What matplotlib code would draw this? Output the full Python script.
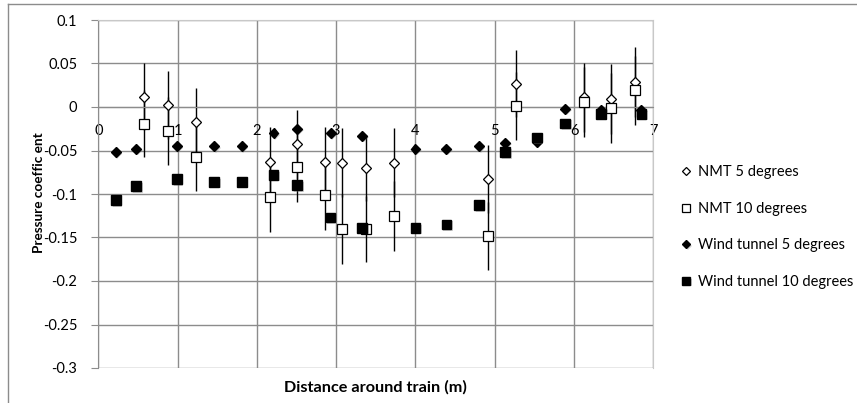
import numpy as np
import matplotlib
matplotlib.use('Agg')
import matplotlib.pyplot as plt
import matplotlib.patheffects as pe
from matplotlib.lines import Line2D

plt.rcParams['font.family'] = ['Lato', 'DejaVu Sans']

# NMT full-scale measurements (with error bars)
nmt_x = [0.58, 0.88, 1.23, 2.17, 2.50, 2.86, 3.07, 3.38, 3.73, 4.92, 5.27, 6.12, 6.47, 6.77]
nmt_5deg = [0.012, 0.002, -0.017, -0.063, -0.043, -0.063, -0.064, -0.070, -0.064,
            -0.083, 0.027, 0.011, 0.009, 0.029]
nmt_10deg = [-0.019, -0.028, -0.057, -0.104, -0.069, -0.101, -0.140, -0.140, -0.125,
             -0.148, 0.001, 0.006, -0.001, 0.019]
nmt_err = [0.039, 0.039, 0.039, 0.040, 0.040, 0.040, 0.040, 0.038, 0.040,
           0.039, 0.039, 0.040, 0.040, 0.040]

# wind tunnel tappings
wt_x = [0.22, 0.48, 0.99, 1.46, 1.81, 2.21, 2.51, 2.93, 3.33, 4.00, 4.39,
        4.80, 5.13, 5.53, 5.89, 6.34, 6.85]
wt_5deg = [-0.052, -0.048, -0.045, -0.045, -0.045, -0.030, -0.025, -0.030, -0.033,
           -0.048, -0.048, -0.045, -0.041, -0.040, -0.002, -0.003, -0.003]
wt_10deg = [-0.107, -0.091, -0.083, -0.086, -0.086, -0.078, -0.090, -0.127, -0.139,
            -0.139, -0.135, -0.113, -0.052, -0.035, -0.019, -0.008, -0.008]

grid_col = '#8c8c8c'
shadow = [pe.SimplePatchShadow(offset=(1.2, -1.2), shadow_rgbFace='#808080', alpha=0.35), pe.Normal()]

fig = plt.figure(figsize=(8.57, 4.03), dpi=100)
ax = fig.add_axes([98.3/857, 1-368/403, (653.3-98.3)/857, (368-20)/403])

ax.errorbar(nmt_x, nmt_5deg, yerr=nmt_err, fmt='none', ecolor='black', elinewidth=1, capsize=0, zorder=2)
ax.errorbar(nmt_x, nmt_10deg, yerr=nmt_err, fmt='none', ecolor='black', elinewidth=1, capsize=0, zorder=2)

ax.plot(nmt_x, nmt_5deg, ls='none', marker='D', ms=5.2, mfc='white', mec='black', mew=0.9,
        label='NMT 5 degrees', zorder=3)
ax.plot(nmt_x, nmt_10deg, ls='none', marker='s', ms=7, mfc='white', mec='black', mew=0.9,
        label='NMT 10 degrees', zorder=3)
ax.plot(wt_x, wt_5deg, ls='none', marker='D', ms=5, mfc='black', mec='black',
        label='Wind tunnel 5 degrees', zorder=4, path_effects=shadow)
ax.plot(wt_x, wt_10deg, ls='none', marker='s', ms=7, mfc='black', mec='black',
        label='Wind tunnel 10 degrees', zorder=5, path_effects=shadow)

ax.set_xlim(0, 7)
ax.set_ylim(-0.3, 0.1)
ax.set_xticks(np.arange(0, 8, 1))
ax.set_yticks(np.arange(-0.3, 0.101, 0.05))
ax.set_yticklabels(['-0.3', '-0.25', '-0.2', '-0.15', '-0.1', '-0.05', '0', '0.05', '0.1'])
ax.grid(True, color=grid_col, lw=1)
ax.set_axisbelow(True)

# horizontal axis crosses at zero
ax.spines['bottom'].set_position(('data', 0))
ax.spines['bottom'].set_color(grid_col)
ax.spines['top'].set_color('#c8c8c8')
ax.spines['right'].set_color('#c8c8c8')
ax.spines['left'].set_color(grid_col)
ax.tick_params(axis='x', length=0, pad=12, labelsize=10.5)
ax.tick_params(axis='y', length=5, color=grid_col, pad=10, labelsize=10.5)

ax.set_xlabel('Distance around train (m)', fontweight='bold', fontsize=11.7)
ax.xaxis.set_label_coords(0.5, -0.035)
ax.set_ylabel('Pressure coeffic ent', fontweight='bold', fontsize=9.8)
ax.yaxis.set_label_coords(-0.096, 0.505)

fig.legend(loc='upper left', bbox_to_anchor=(667/857, 1-152/403), frameon=False,
           fontsize=10.5, labelspacing=1.55, handlelength=0.8, handletextpad=0.4,
           markerscale=0.8)

# chart area border
fig.add_artist(Line2D([8/857, 1], [1-4/403, 1-4/403], color='#8c8c8c', lw=1))
fig.add_artist(Line2D([8/857, 8/857], [0, 1-4/403], color='#8c8c8c', lw=1))

fig.savefig('out.png', dpi=100)
